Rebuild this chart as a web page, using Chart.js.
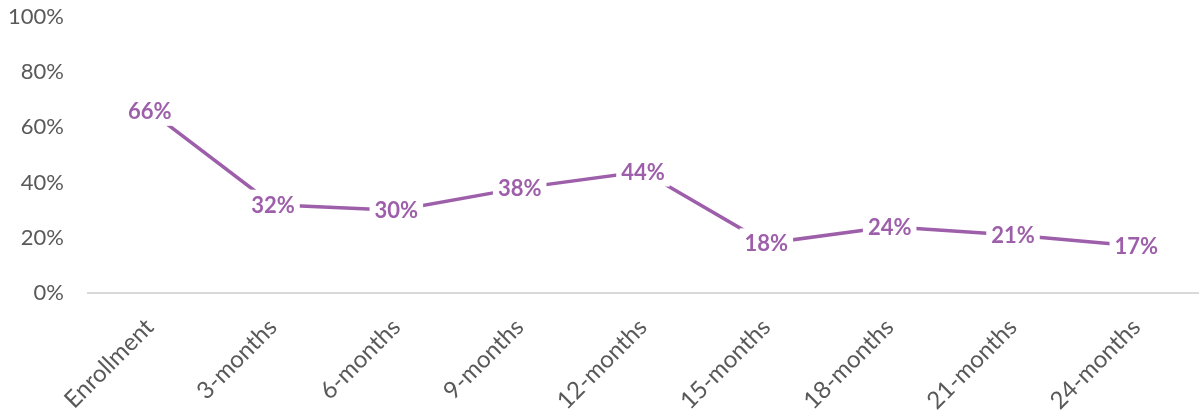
<!DOCTYPE html>
<html>
<head>
<meta charset="utf-8">
<script src="https://cdn.jsdelivr.net/npm/chart.js@4.4.0/dist/chart.umd.min.js"></script>
<style>
  html, body { margin: 0; padding: 0; background: #ffffff; }
  #wrap { position: relative; width: 1201px; height: 417px; }
</style>
</head>
<body>
<div id="wrap"><canvas id="c" width="1201" height="417"></canvas></div>
<script>
// Follow-up time points and the share at each one (percent)
const categories = ['Enrollment', '3-months', '6-months', '9-months', '12-months',
                    '15-months', '18-months', '21-months', '24-months'];
const values = [66, 32, 30, 38, 44, 18, 24, 21, 17];
const yTicks = [0, 20, 40, 60, 80, 100];

const purple = '#9E5FAA';
const tickGray = '#595959';

// Value labels drawn on top of each point with a white box that cuts the line
const pointLabels = {
  id: 'pointLabels',
  afterDatasetsDraw(chart) {
    const ctx = chart.ctx;
    const meta = chart.getDatasetMeta(0);
    ctx.save();
    ctx.font = 'bold 22px Lato';
    ctx.textAlign = 'center';
    ctx.textBaseline = 'middle';
    meta.data.forEach((pt, i) => {
      const txt = values[i] + '%';
      const w = ctx.measureText(txt).width;
      const h = 24;
      ctx.fillStyle = '#ffffff';
      ctx.fillRect(pt.x - w / 2 - 5, pt.y - h / 2 - 3, w + 10, h + 6);
      ctx.fillStyle = purple;
      ctx.fillText(txt, pt.x, pt.y + 1);
    });
    ctx.restore();
  }
};

new Chart(document.getElementById('c'), {
  type: 'line',
  data: {
    labels: categories,
    datasets: [{
      data: values,
      borderColor: purple,
      borderWidth: 3.5,
      pointRadius: 0,
      tension: 0,
      fill: false
    }]
  },
  options: {
    responsive: false,
    animation: false,
    layout: { padding: { top: 17, right: 3, left: 0, bottom: 0 } },
    plugins: { legend: { display: false }, tooltip: { enabled: false } },
    scales: {
      x: {
        offset: true,
        grid: { display: false, drawTicks: false },
        border: { display: true, color: '#D9D9D9', width: 2 },
        ticks: {
          color: tickGray,
          font: { family: 'Lato', size: 24 },
          maxRotation: 45,
          minRotation: 45,
          padding: 20,
          autoSkip: false
        },
        afterFit(scale) {
          scale.height = 124;
          scale.paddingLeft = 0;
          scale.paddingRight = 0;
        }
      },
      y: {
        min: 0,
        max: 100,
        afterBuildTicks(scale) { scale.ticks = yTicks.map(v => ({ value: v })); },
        grid: { display: false, drawTicks: false },
        border: { display: false },
        ticks: {
          color: tickGray,
          font: { family: 'Lato', size: 22 },
          padding: 24,
          callback: v => v + '%'
        },
        afterFit(scale) {
          scale.width = 88;
          scale.paddingTop = 0;
          scale.paddingBottom = 0;
        }
      }
    }
  },
  plugins: [pointLabels]
});
</script>
</body>
</html>
